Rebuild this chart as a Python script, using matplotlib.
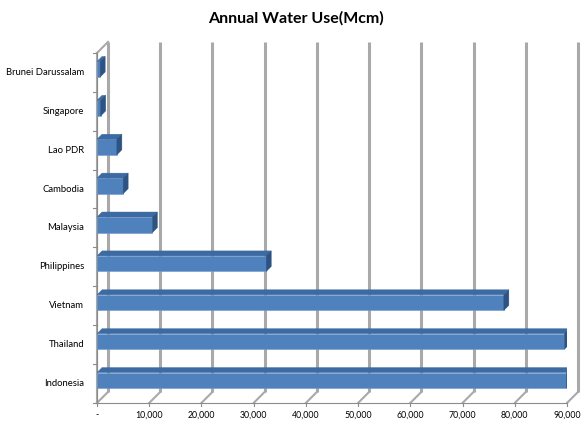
import matplotlib
matplotlib.use("Agg")
import matplotlib.pyplot as plt
from matplotlib.patches import Polygon
import numpy as np

plt.rcParams["font.family"] = ["Lato", "DejaVu Sans"]

# ── Data ──────────────────────────────────────────────────────────────────────
countries = ["Indonesia", "Thailand", "Vietnam", "Philippines", "Malaysia",
             "Cambodia", "Lao PDR", "Singapore", "Brunei Darussalam"]
water_use = [89900, 89500, 77900, 32400, 10600, 5000, 3800, 700, 600]

x_ticks = np.arange(0, 90001, 10000)
x_ticklabels = ["-"] + [f"{v:,}" for v in x_ticks[1:]]

# ── Style ─────────────────────────────────────────────────────────────────────
FRONT = "#4f81bd"
TOP = "#3c6aa3"
SIDE = "#2d5382"
GRID = "#a9a9a9"

fig = plt.figure(figsize=(5.81, 4.25), dpi=100)
ax = fig.add_axes([0.167, 0.052, 0.809, 0.8235])
ax.set_xlim(0, 90000)
ax.set_ylim(-0.5, len(countries) - 0.5)
ax.axis("off")

# depth offsets of wall and bars (pixel -> data)
px_x = 90000 / (0.809 * 581)
px_y = len(countries) / (0.8235 * 425)
wall_dx, wall_dy = 11 * px_x, 11 * px_y
bar_dx, bar_dy = 5 * px_x, 5 * px_y

y0, y1 = -0.5, len(countries) - 0.5

# back wall gridlines and floor diagonals
for v in x_ticks:
    ax.plot([v + wall_dx, v + wall_dx], [y0 + wall_dy, y1 + wall_dy],
            color=GRID, lw=2.2, solid_capstyle="butt", clip_on=False, zorder=1)
    ax.plot([v, v + wall_dx], [y0, y0 + wall_dy],
            color=GRID, lw=1.5, clip_on=False, zorder=1)

# left wall
ax.plot([0, 0], [y0, y1], color=GRID, lw=1.5, clip_on=False, zorder=1)
ax.plot([0, wall_dx], [y1, y1 + wall_dy], color=GRID, lw=1.5, clip_on=False, zorder=1)

# front axes lines and ticks
ax.plot([0, 90000], [y0, y0], color="#8c8c8c", lw=0.8, clip_on=False, zorder=2)
ax.plot([0, 0], [y0, y1], color="#8c8c8c", lw=0.8, clip_on=False, zorder=2)
for v in x_ticks:
    ax.plot([v, v], [y0, y0 - 3 * px_y], color="#8c8c8c", lw=0.8, clip_on=False)
for b in np.arange(y0, y1 + 0.01, 1.0):
    ax.plot([0, -4 * px_x], [b, b], color="#8c8c8c", lw=0.8, clip_on=False)

# 3D-looking bars
lo, hi = -0.12, 0.28
for i, val in enumerate(water_use):
    ax.barh(i + (lo + hi) / 2, val, height=hi - lo, left=0,
            color=FRONT, edgecolor="#6f9bd0", linewidth=0.4, zorder=4)
    top = Polygon([(0, i + hi), (val, i + hi), (val + bar_dx, i + hi + bar_dy),
                   (bar_dx, i + hi + bar_dy)], closed=True,
                  facecolor=TOP, edgecolor=TOP, lw=0.3, zorder=4)
    side = Polygon([(val, i + lo), (val + bar_dx, i + lo + bar_dy),
                    (val + bar_dx, i + hi + bar_dy), (val, i + hi)], closed=True,
                   facecolor=SIDE, edgecolor=SIDE, lw=0.3, zorder=4)
    ax.add_patch(top)
    ax.add_patch(side)

# tick labels
for v, lab in zip(x_ticks, x_ticklabels):
    ax.text(v, y0 - 12 * px_y, lab, ha="center", va="center", fontsize=6.3)
for i, c in enumerate(countries):
    ax.text(-13 * px_x, i, c, ha="right", va="center", fontsize=6.8)

fig.text(0.51, 0.957, "Annual Water Use(Mcm)", ha="center", va="center",
         fontsize=11.5, fontweight="bold")

fig.savefig("out.png", dpi=100)
